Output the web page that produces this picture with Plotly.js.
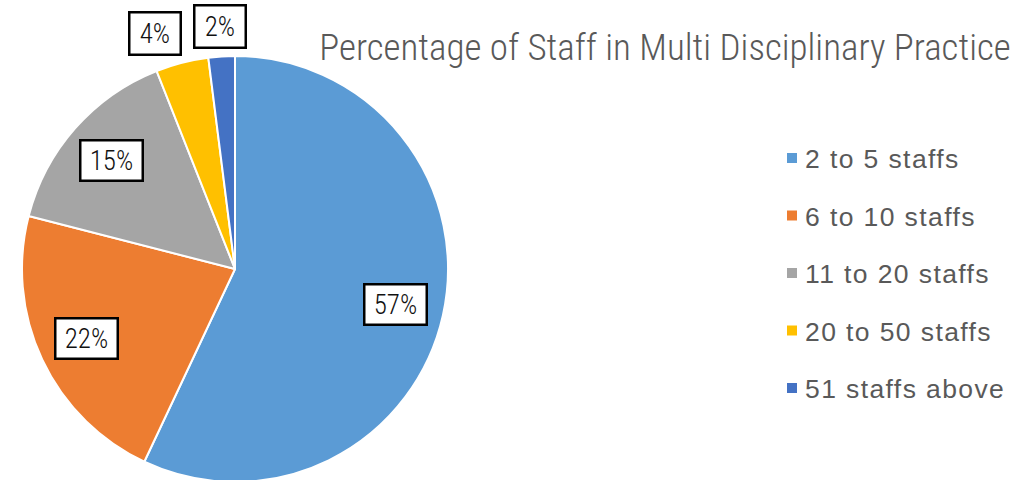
<!DOCTYPE html>
<html>
<head>
<meta charset="utf-8">
<script src="https://cdn.plot.ly/plotly-3.0.1.min.js"></script>
<style>
html,body{margin:0;padding:0;overflow:hidden;background:#fff;width:1030px;height:480px;}
#chart{width:1030px;height:490px;}
</style>
</head>
<body>
<div id="chart"></div>
<script>
// Data
const categories = ["2 to 5 staffs", "6 to 10 staffs", "11 to 20 staffs", "20 to 50 staffs", "51 staffs above"];
const percentages = [57, 22, 15, 4, 2];
const colors = ["#5B9BD5", "#ED7D31", "#A5A5A5", "#FFC000", "#4472C4"];
const chartTitle = "Percentage of Staff in Multi Disciplinary Practice";

// Layout geometry (pixels)
const W = 1030, H = 490;
const cx = 235, cy = 269, R = 213;
const boxW = 48, boxGap = 17;

const total = percentages.reduce((a, b) => a + b, 0);
const annotations = [];
const shapes = [];

// Data label positions from slice angles (inside for big slices, outside for small)
let cum = 0;
const labelPos = percentages.map((v) => {
  const mid = (cum + v / 2) / total * 2 * Math.PI;
  cum += v;
  const inside = v >= 10;
  const rf = inside ? 0.77 : 1.14;
  return {x: cx + rf * R * Math.sin(mid), y: cy - rf * R * Math.cos(mid), inside: inside};
});
// simple collision avoidance for outside labels (push earlier ones left)
for (let i = labelPos.length - 2; i >= 0; i--) {
  const a = labelPos[i], b = labelPos[i + 1];
  if (!a.inside && !b.inside && a.x + boxW / 2 + boxGap > b.x - boxW / 2) {
    a.x = b.x - boxW - boxGap;
  }
}
percentages.forEach((v, i) => {
  annotations.push({
    xref: "paper", yref: "paper",
    x: labelPos[i].x / W, y: 1 - labelPos[i].y / H,
    xanchor: "center", yanchor: "middle",
    text: "\u2009" + Math.round(v / total * 100) + "%\u2009",
    showarrow: false,
    font: {family: "Roboto Condensed", weight: 300, size: 27, color: "#111111"},
    bgcolor: "#ffffff",
    bordercolor: "#000000",
    borderwidth: 2.5,
    borderpad: labelPos[i].inside ? 3 : 4
  });
});

// Custom legend
categories.forEach((c, i) => {
  const ly = 158 + i * 57.5;
  shapes.push({
    type: "rect", xref: "paper", yref: "paper",
    x0: 787 / W, x1: 797 / W,
    y0: 1 - (ly + 5) / H, y1: 1 - (ly - 5) / H,
    fillcolor: colors[i], line: {width: 0}
  });
  annotations.push({
    xref: "paper", yref: "paper",
    x: 803 / W, y: 1 - (ly + 1) / H,
    xanchor: "left", yanchor: "middle",
    text: c, showarrow: false,
    font: {family: "Arial", size: 26.5, color: "#595959"}
  });
});

const data = [{
  type: "pie",
  labels: categories,
  values: percentages,
  sort: false,
  direction: "clockwise",
  rotation: 0,
  marker: {colors: colors, line: {color: "#ffffff", width: 2}},
  textinfo: "none",
  hoverinfo: "label+percent",
  domain: {x: [22 / W, 448 / W], y: [(H - 482) / H, (H - 56) / H]},
  showlegend: false
}];

const layout = {
  width: W, height: H,
  margin: {l: 0, r: 0, t: 0, b: 0},
  paper_bgcolor: "#ffffff",
  showlegend: false,
  title: {
    text: chartTitle,
    x: 665 / W, xanchor: "center", xref: "paper",
    y: 1 - 47 / H, yanchor: "middle", yref: "container",
    font: {family: "Roboto Condensed", weight: 300, size: 37, color: "#595959"}
  },
  annotations: annotations,
  shapes: shapes
};

Plotly.newPlot("chart", data, layout, {displayModeBar: false, staticPlot: true}).then(() => {
  // widen legend text spacing to match reference rendering, keeping left edge fixed
  document.querySelectorAll("#chart g.annotation").forEach((g) => {
    const idx = +g.getAttribute("data-index");
    if (idx >= percentages.length) {
      g.querySelectorAll("text").forEach((t) => {
        const w0 = t.getComputedTextLength();
        t.style.letterSpacing = "1.4px";
        const w1 = t.getComputedTextLength();
        const x0 = parseFloat(t.getAttribute("x") || "0");
        t.setAttribute("x", x0 + (w1 - w0) / 2);
      });
    }
  });
});
</script>
</body>
</html>
